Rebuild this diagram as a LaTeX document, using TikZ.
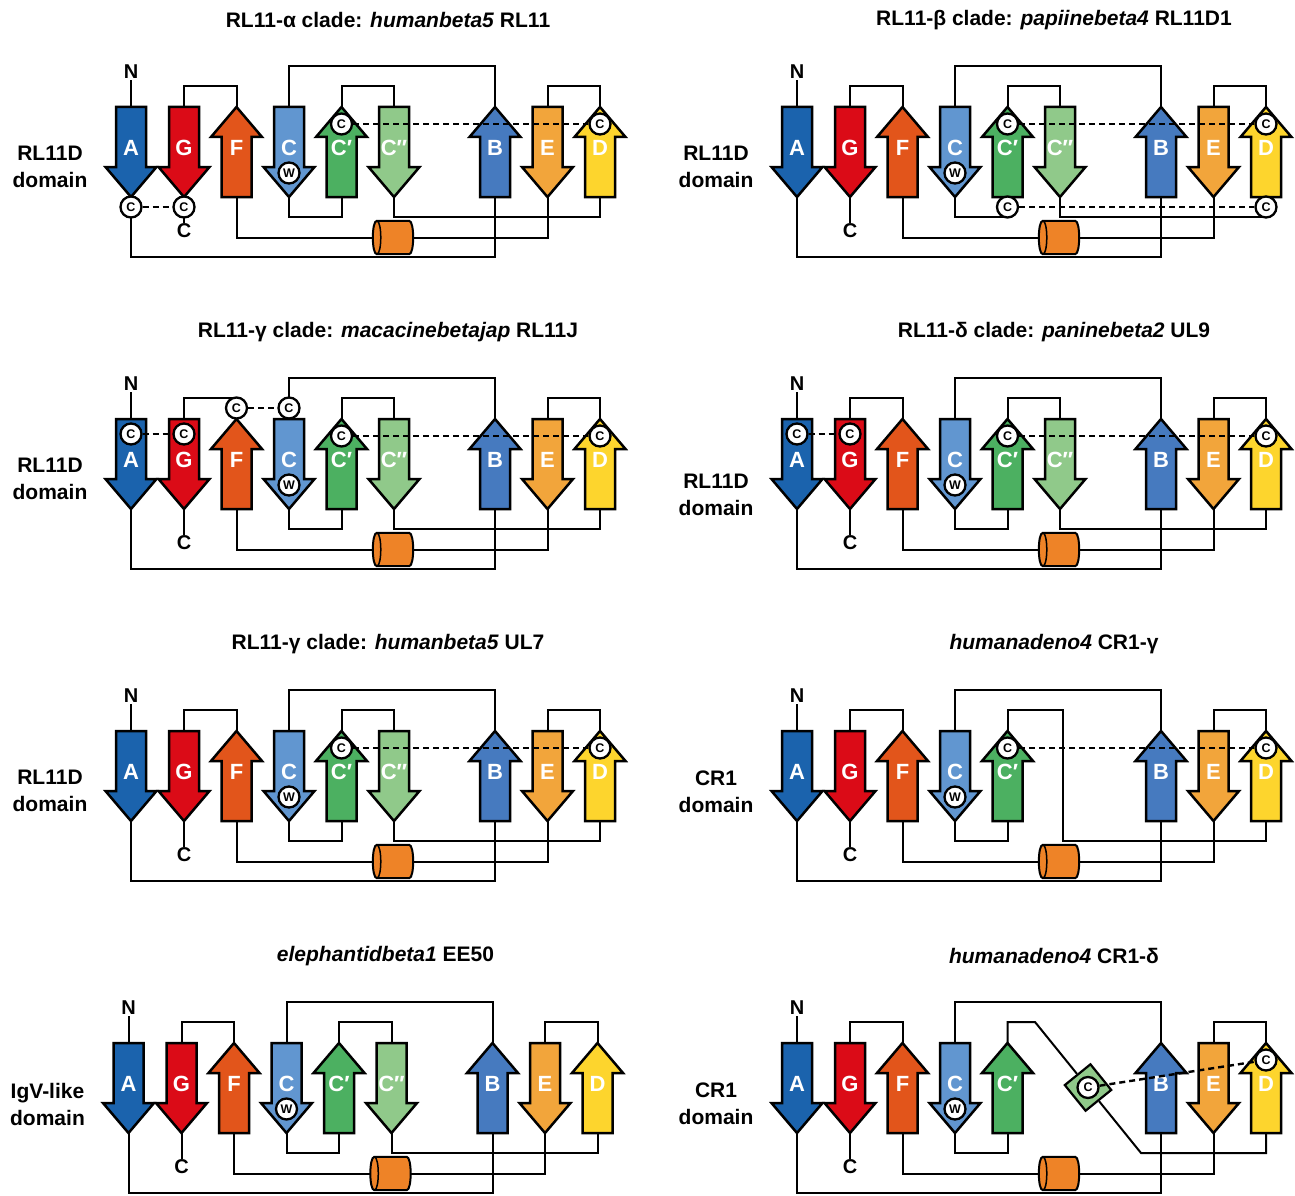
\documentclass[tikz,border=0pt]{standalone}
\usepackage{fontspec}
\setmainfont{Liberation Sans}
\usetikzlibrary{backgrounds}
\definecolor{cA}{HTML}{1B63AD}
\definecolor{cG}{HTML}{DB0B17}
\definecolor{cF}{HTML}{E2551B}
\definecolor{cC}{HTML}{6196D0}
\definecolor{cCp}{HTML}{4CB061}
\definecolor{cCpp}{HTML}{90C98A}
\definecolor{cB}{HTML}{467ABF}
\definecolor{cE}{HTML}{F2A53B}
\definecolor{cD}{HTML}{FDD52D}
\definecolor{cH}{HTML}{EE8327}
\tikzset{
  strandline/.style={line width=2.5pt, line join=miter, draw=black},
  conn/.style={line width=2pt, draw=black},
  ssbond/.style={line width=2.4pt, dash pattern=on 6pt off 4pt},
  cys/.style={circle, draw, line width=2.3pt, fill=white, minimum size=21pt, inner sep=0pt, font=\fontsize{12.5}{12.5}\selectfont\bfseries},
  lbl/.style={text=white, font=\fontsize{22}{22}\selectfont\bfseries, inner sep=0pt},
  term/.style={font=\fontsize{20}{20}\selectfont\bfseries, inner sep=1pt},
  ttl/.style={font=\fontsize{21}{21}\selectfont\bfseries, inner sep=0pt},
  dom/.style={font=\fontsize{21}{27}\selectfont\bfseries, align=center, inner sep=0pt},
  helixline/.style={line width=2pt, draw=black, fill=cH},
  sqr/.style={rectangle, draw, line width=2.2pt, fill=cCpp, minimum size=33pt, inner sep=0pt},
}
\newcommand{\strandDn}[4]{%
  \draw[strandline,fill=#3] ({#2-15},107) -- ({#2+15},107) -- ({#2+15},167) -- ({#2+25.5},167) -- (#2,197) -- ({#2-25.5},167) -- ({#2-15},167) -- cycle;
  \node[lbl] (#1) at (#2,148) {#4};
  \coordinate (#1-t) at (#2,107);
  \coordinate (#1-b) at (#2,197);}
\newcommand{\strandUp}[4]{%
  \draw[strandline,fill=#3] (#2,107) -- ({#2+25.5},137) -- ({#2+15},137) -- ({#2+15},197) -- ({#2-15},197) -- ({#2-15},137) -- ({#2-25.5},137) -- cycle;
  \node[lbl] (#1) at (#2,148) {#4};
  \coordinate (#1-t) at (#2,107);
  \coordinate (#1-b) at (#2,197);}
\newcommand{\helixat}[3]{%
  \node[inner sep=0pt, minimum width=40pt, minimum height=33pt] (#1) at (#2,#3) {};
  \draw[helixline] ([xshift=4pt]#1.north west) -- ([xshift=-4pt]#1.north east) .. controls ([xshift=1.3pt]#1.north east) and ([xshift=1.3pt]#1.south east) .. ([xshift=-4pt]#1.south east) -- ([xshift=4pt]#1.south west) .. controls ([xshift=-1.3pt]#1.south west) and ([xshift=-1.3pt]#1.north west) .. cycle;
  \draw[line width=1.5pt] ([xshift=4pt]#1.north west) .. controls ([xshift=9.3pt]#1.north west) and ([xshift=9.3pt]#1.south west) .. ([xshift=4pt]#1.south west);}
\newcommand{\panelbase}[4]{%
  \node[ttl] (#1T) at (388,20) {#2};
  \node[dom] (#1L) at (50,#4) {#3};
  \node[term] (#1N) at (131,72) {N};
  \node[term] (#1Ct) at (184,231) {C};
  \strandDn{#1A}{131}{cA}{A}
  \strandDn{#1G}{184}{cG}{G}
  \strandUp{#1F}{236.5}{cF}{F}
  \strandDn{#1C}{289}{cC}{C}
  \strandUp{#1Cp}{341.5}{cCp}{C′}
  \strandUp{#1B}{495}{cB}{B}
  \strandDn{#1E}{547.5}{cE}{E}
  \strandUp{#1D}{600}{cD}{D}
  \helixat{#1H}{393}{237.5}
  \begin{pgfonlayer}{background}
    \draw[conn] (#1N) -- (#1A-t);
    \draw[conn] (#1A-b) -- ++(0,60) -| (#1B-b);
    \draw[conn] (#1G-t) -- ++(0,-21) -| (#1F-t);
    \draw[conn] (#1G-b) -- (#1Ct);
    \draw[conn] (#1F-b) |- (#1H.west);
    \draw[conn] (#1H.east) -| (#1E-b);
    \draw[conn] (#1C-t) -- ++(0,-41) -| (#1B-t);
    \draw[conn] (#1C-b) -- ++(0,20) -| (#1Cp-b);
    \draw[conn] (#1E-t) -- ++(0,-21) -| (#1D-t);
  \end{pgfonlayer}
  \node[cys] (#1W) at (289,173) {W};
}
\newcommand{\withCpp}[1]{%
  \strandDn{#1Cpp}{394}{cCpp}{C″}
  \begin{pgfonlayer}{background}
    \draw[conn] (#1Cp-t) -- ++(0,-21) -| (#1Cpp-t);
    \draw[conn] (#1Cpp-b) -- ++(0,20) -| (#1D-b);
  \end{pgfonlayer}}
\newcommand{\cpdbond}[1]{%
  \node[cys] (#1c1) at (341.5,124) {C};
  \node[cys] (#1c2) at (600,124) {C};
  \draw[ssbond] (#1c1) -- (#1c2);}
\newcommand{\agbond}[1]{%
  \node[cys] (#1c3) at (131,122) {C};
  \node[cys] (#1c4) at (184,122) {C};
  \draw[ssbond] (#1c3) -- (#1c4);}
\begin{document}
\begin{tikzpicture}[x=1pt,y=-1pt]
\useasboundingbox (0,0) rectangle (1295,1196);
% Panel 1
\begin{scope}
  \panelbase{a}{RL11-α clade: \textit{humanbeta5} RL11}{RL11D\\domain}{166.5}
  \withCpp{a}
  \cpdbond{a}
  \node[cys] (ac3) at (131,207) {C};
  \node[cys] (ac4) at (184,207) {C};
  \draw[ssbond] (ac3) -- (ac4);
\end{scope}
% Panel 2
\begin{scope}[shift={(666,0)}]
  \panelbase{b}{RL11-β clade: \textit{papiinebeta4} RL11D1}{RL11D\\domain}{166.5}
  \withCpp{b}
  \cpdbond{b}
  \node[cys] (bc3) at (341.5,207) {C};
  \node[cys] (bc4) at (600,207) {C};
  \draw[ssbond] (bc3) -- (bc4);
\end{scope}
% Panel 3
\begin{scope}[shift={(0,312)}]
  \panelbase{c}{RL11-γ clade: \textit{macacinebetajap} RL11J}{RL11D\\domain}{166.5}
  \withCpp{c}
  \cpdbond{c}
  \agbond{c}
  \node[cys] (cc5) at (236.5,96) {C};
  \node[cys] (cc6) at (289,96) {C};
  \draw[ssbond] (cc5) -- (cc6);
\end{scope}
% Panel 4
\begin{scope}[shift={(666,312)}]
  \panelbase{d}{RL11-δ clade: \textit{paninebeta2} UL9}{RL11D\\domain}{182.5}
  \withCpp{d}
  \cpdbond{d}
  \agbond{d}
\end{scope}
% Panel 5
\begin{scope}[shift={(0,624)}]
  \panelbase{e}{RL11-γ clade: \textit{humanbeta5} UL7}{RL11D\\domain}{166.5}
  \withCpp{e}
  \cpdbond{e}
\end{scope}
% Panel 6
\begin{scope}[shift={(666,624)}]
  \panelbase{f}{\textit{humanadeno4} CR1-γ}{CR1\\domain}{168}
  \coordinate (fk1) at (397,86);
  \coordinate (fk2) at (397,217);
  \begin{pgfonlayer}{background}
    \draw[conn] (fCp-t) |- (fk1) -- (fk2) -| (fD-b);
  \end{pgfonlayer}
  \cpdbond{f}
\end{scope}
% Panel 7
\begin{scope}[shift={(-2.5,936)}]
  \panelbase{g}{\textit{elephantidbeta1} EE50}{IgV-like\\domain}{168}
  \withCpp{g}
\end{scope}
% Panel 8
\begin{scope}[shift={(666,936)}]
  \panelbase{h}{\textit{humanadeno4} CR1-δ}{CR1\\domain}{168}
  \coordinate (hk1) at (369,86);
  \coordinate (hk2) at (475,217);
  \node[sqr, rotate=39] (hS) at (422,151.5) {};
  \begin{pgfonlayer}{background}
    \draw[conn] (hCp-t) |- (hk1) -- (hS) -- (hk2) -| (hD-b);
  \end{pgfonlayer}
  \node[cys] (hc1) at (422,151.5) {C};
  \node[cys] (hc2) at (600,124) {C};
  \draw[ssbond] (hc1) -- (hc2);
\end{scope}
\end{tikzpicture}
\end{document}
